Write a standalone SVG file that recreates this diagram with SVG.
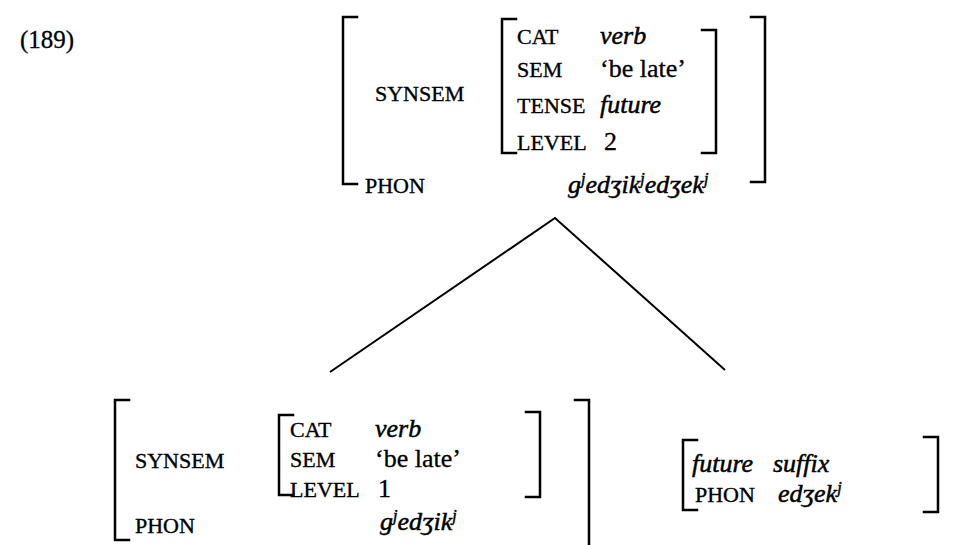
<svg xmlns="http://www.w3.org/2000/svg" width="960" height="545" viewBox="0 0 960 545">
<style>
.br{fill:none;stroke:#000;stroke-width:2.5;stroke-linecap:square}
.ln{fill:none;stroke:#000;stroke-width:2}
.lab{font-family:"Liberation Serif","DejaVu Serif",serif;font-size:22px;fill:#000;stroke:#000;stroke-width:0.35}
.val{font-family:"Liberation Serif","DejaVu Serif",serif;font-size:26px;fill:#000;stroke:#000;stroke-width:0.3}
.it{font-family:"Liberation Serif","DejaVu Serif",serif;font-size:26px;font-style:italic;fill:#000;stroke:#000;stroke-width:0.5}
.sup{font-size:16px}
.num{font-family:"Liberation Serif","DejaVu Serif",serif;font-size:25px;fill:#000;stroke:#000;stroke-width:0.3}
</style>
<rect width="960" height="545" fill="#fff"/>
<text class="num" x="20" y="48">(189)</text>
<g id="connectors">
<path class="ln" d="M330 372 L555 218 L725 370"/>
</g>
<g id="mother">
<path class="br" d="M357 17 H343 V184 H357"/>
<path class="br" d="M751 17 H765 V182 H751"/>
<path class="br" d="M516 19 H502 V153 H516"/>
<path class="br" d="M702 30 H716 V153 H702"/>
<text class="lab" x="375" y="101">SYNSEM</text>
<text class="lab" x="365" y="193">PHON</text>
<text class="lab" x="517" y="44">CAT</text>
<text class="it" x="600" y="44">verb</text>
<text class="lab" x="517" y="77">SEM</text>
<text class="val" x="600" y="77">‘be late’</text>
<text class="lab" x="517" y="113">TENSE</text>
<text class="it" x="600" y="113">future</text>
<text class="lab" x="517" y="150">LEVEL</text>
<text class="val" x="604" y="150">2</text>
<text class="it" x="568" y="193">g<tspan class="sup" dy="-9">j</tspan><tspan dy="9">edʒik</tspan><tspan class="sup" dy="-9">j</tspan><tspan dy="9">edʒek</tspan><tspan class="sup" dy="-9">j</tspan></text>
</g>
<g id="stem">
<path class="br" d="M129 400 H115 V540 H129"/>
<path class="br" d="M575 400 H589 V545"/>
<path class="br" d="M293 415 H279 V495 H293"/>
<path class="br" d="M526 412 H540 V497 H526"/>
<text class="lab" x="135" y="468">SYNSEM</text>
<text class="lab" x="135" y="533">PHON</text>
<text class="lab" x="290" y="437">CAT</text>
<text class="it" x="375" y="437">verb</text>
<text class="lab" x="290" y="467">SEM</text>
<text class="val" x="375" y="467">‘be late’</text>
<text class="lab" x="290" y="497">LEVEL</text>
<text class="val" x="378" y="497">1</text>
<text class="it" x="380" y="530">g<tspan class="sup" dy="-9">j</tspan><tspan dy="9">edʒik</tspan><tspan class="sup" dy="-9">j</tspan></text>
</g>
<g id="suffix">
<path class="br" d="M697 440 H683 V510 H697"/>
<path class="br" d="M924 437 H938 V512 H924"/>
<text class="it" x="692" y="472">future</text>
<text class="it" x="773" y="472">suffix</text>
<text class="lab" x="695" y="502">PHON</text>
<text class="it" x="778" y="502">edʒek<tspan class="sup" dy="-9">j</tspan></text>
</g>
</svg>
